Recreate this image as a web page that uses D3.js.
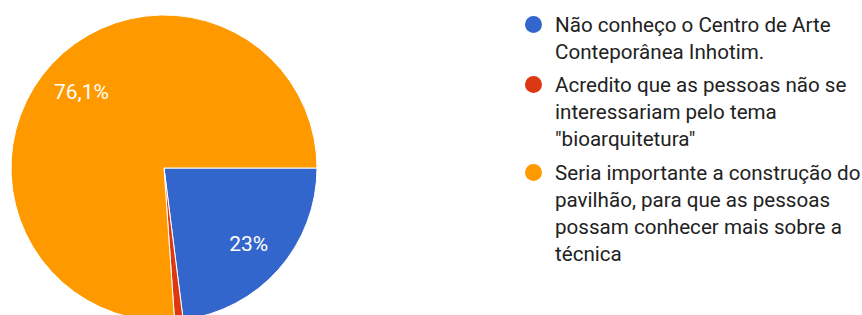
<!DOCTYPE html>
<html lang="pt">
<head>
  <meta charset="utf-8" />
  <title>Pie</title>
  <script src="https://d3js.org/d3.v7.min.js"></script>
  <style>
body {
  margin: 0;
  background-color: white;
  font-family: Roboto, sans-serif;
}
svg {
  display: block;
}
.legend text {
  fill: #222;
  font-size: 20.6px;
}
.slice-label {
  fill: white;
  font-size: 21px;
}
</style>
</head>
<body>
  <svg width="862" height="315"></svg>

  <script>
    var labels = [
      ['Não conheço o Centro de Arte', 'Conteporânea Inhotim.'],
      ['Acredito que as pessoas não se', 'interessariam pelo tema', '"bioarquitetura"'],
      ['Seria importante a construção do', 'pavilhão, para que as pessoas', 'possam conhecer mais sobre a', 'técnica']
    ];
    var values = [23.0, 0.9, 76.1];
    var valueText = ['23%', '', '76,1%'];
    var colors = ['#3366cc', '#dc3912', '#ff9900'];

    var svg = d3.select('svg');
    var cx = 164, cy = 168, radius = 153;

    var pie = d3.pie()
      .sort(null)
      .startAngle(Math.PI / 2)
      .endAngle(Math.PI / 2 + 2 * Math.PI)
      .value((d) => d);

    var arc = d3.arc().innerRadius(0).outerRadius(radius);
    var labelArc = d3.arc().innerRadius(113).outerRadius(113);

    var chart = svg.append('g')
      .attr('transform', `translate(${cx}, ${cy})`);

    var slices = chart.selectAll('g')
      .data(pie(values))
      .enter()
      .append('g');

    slices.append('path')
      .attr('d', arc)
      .attr('fill', (d, i) => colors[i])
      .attr('stroke', 'white')
      .attr('stroke-width', 1);

    slices.append('text')
      .attr('class', 'slice-label')
      .attr('transform', (d) => `translate(${labelArc.centroid(d)})`)
      .attr('text-anchor', 'middle')
      .attr('dy', '0.4em')
      .text((d, i) => valueText[i]);

    // legend
    var lineH = 27.2;
    var itemTop = [31.5, 91.5, 179.5];
    var legend = svg.append('g').attr('class', 'legend');

    labels.forEach((lines, i) => {
      var item = legend.append('g');
      item.append('circle')
        .attr('cx', 533.5)
        .attr('cy', itemTop[i] - 7)
        .attr('r', 8.5)
        .attr('fill', colors[i]);
      item.selectAll('text')
        .data(lines)
        .enter()
        .append('text')
        .attr('x', 555)
        .attr('y', (t, j) => itemTop[i] + j * lineH)
        .text((t) => t);
    });
  </script>
</body>
</html>
